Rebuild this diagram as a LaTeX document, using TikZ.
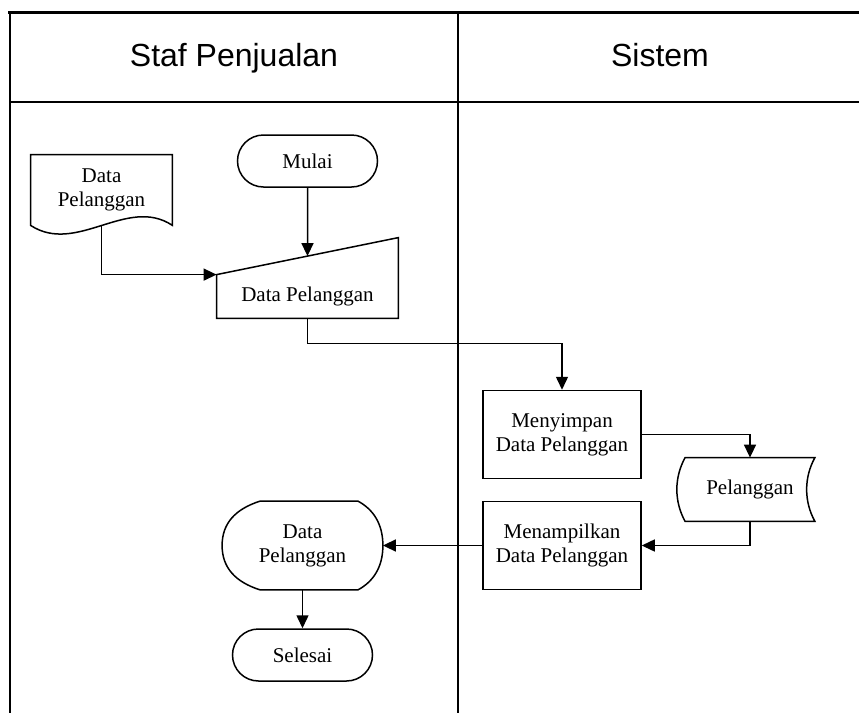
\documentclass[tikz,border=0pt]{standalone}
\usepackage{fontspec}
\setmainfont{Liberation Serif}
\newfontfamily\headfont{Liberation Sans}
\usetikzlibrary{calc,arrows.meta,positioning,shapes.misc}

\begin{document}
\begin{tikzpicture}[x=0.5pt,y=-0.5pt,
  font=\fontsize{10.5}{12}\selectfont,
  lane/.style={line width=1pt},
  lanehead/.style={anchor=base,font=\headfont\fontsize{16}{19}\selectfont},
  outline/.style={draw,line width=0.75pt},
  term/.style={outline,rounded rectangle,minimum width=70pt,minimum height=26pt,inner sep=0pt},
  proc/.style={outline,rectangle,minimum width=79pt,minimum height=44pt,align=center,inner sep=0pt},
  blank/.style={rectangle,align=center,inner sep=0pt},
  arrow/.style={-{Triangle[length=6.5pt,width=6pt]},line width=0.75pt}]

  \useasboundingbox (0,0) rectangle (859,713);

  % swimlanes
  \draw[line width=1.5pt] (8,12) -- (859,12);
  \draw[lane] (10,12) -- (10,713);
  \draw[lane] (458,12) -- (458,713);
  \draw[lane] (10,102) -- (859,102);
  \node[lanehead] (staf) at (234,66) {Staf Penjualan};
  \node[lanehead] (sistem) at (660,66) {Sistem};

  % staf penjualan
  \node[term] (mulai) at (307.5,161) {Mulai};
  \node[blank,minimum width=70.5pt,minimum height=35pt] (doc) at (101.5,190) {Data\\Pelanggan};
  \node[blank,minimum width=90.5pt,minimum height=21.5pt] (input) at (307.5,296.5) {Data Pelanggan};
  \node[blank,minimum width=80pt,minimum height=44pt] (disp) at (302.5,545.5) {Data\\Pelanggan};
  \node[term] (selesai) at (302.5,655) {Selesai};

  % sistem
  \node[proc] (save) at (562,434.5) {Menyimpan\\Data Pelanggan};
  \node[blank,minimum width=64.5pt,minimum height=31.5pt] (store) at (750,489.5) {Pelanggan};
  \node[proc] (show) at (562,545.5) {Menampilkan\\Data Pelanggan};

  % shapes
  \draw[outline] (doc.south west) -- (doc.north west) -- (doc.north east) -- (doc.south east)
    .. controls +(-45,-30) and +(46,30) .. (doc.south west) -- cycle;
  \coordinate (inr) at ($(input.north east)+(0,-37)$);
  \draw[outline] (input.south west) -- (input.north west) -- (inr) -- (input.south east) -- cycle;
  \coordinate (slant) at ($(input.north west)!0.5!(inr)$);
  \draw[outline] (store.north west) -- (store.north east)
    .. controls +(-11,20) and +(-11,-20) .. (store.south east) -- (store.south west)
    .. controls +(-11,-20) and +(-11,20) .. (store.north west) -- cycle;
  \coordinate (dtl) at ($(disp.north west)+(38,0)$);
  \coordinate (dtr) at ($(disp.north east)+(-25,0)$);
  \coordinate (dbl) at ($(disp.south west)+(38,0)$);
  \coordinate (dbr) at ($(disp.south east)+(-25,0)$);
  \draw[outline] (dtl) -- (dtr) .. controls +(15,8) and +(0,-22) .. (disp.east)
    .. controls +(0,22) and +(15,-8) .. (dbr) -- (dbl)
    .. controls +(-25,-8) and +(0,22) .. (disp.west)
    .. controls +(0,-22) and +(-25,8) .. (dtl) -- cycle;

  % connectors
  \coordinate (bend) at ($(input.south)+(0,25)$);
  \draw[arrow] (mulai) -- (slant);
  \draw[arrow] (doc.south) |- (input.north west);
  \draw[arrow] (input.south) -- (bend) -| (save.north);
  \draw[arrow] (save.east) -| (store.north);
  \draw[arrow] (store.south) |- (show.east);
  \draw[arrow] (show.west) -- (disp.east);
  \draw[arrow] (disp.south) -- (selesai.north);
\end{tikzpicture}
\end{document}
